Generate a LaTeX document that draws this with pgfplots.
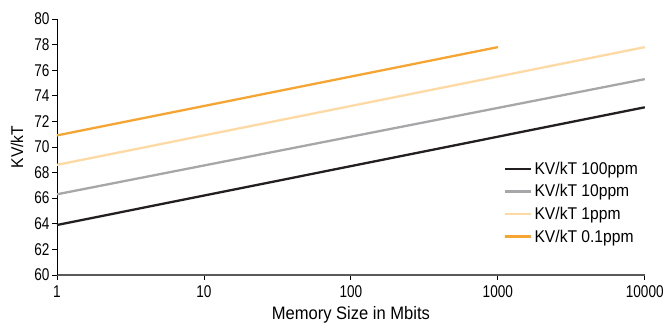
\documentclass[border=0pt]{standalone}
\usepackage{fontspec}
\setmainfont[FakeStretch=0.92]{Liberation Sans}
\newfontfamily\tickfont[FakeStretch=0.8]{Liberation Sans}
\usepackage{pgfplots}
\pgfplotsset{compat=1.18}
\definecolor{cBlack}{HTML}{231F20}
\definecolor{cGray}{HTML}{A7A7A9}
\definecolor{cLight}{HTML}{FDD9A3}
\definecolor{cOrange}{HTML}{F7A532}
\definecolor{cAxis}{HTML}{5A5A5A}
\begin{document}
\begin{tikzpicture}
\begin{axis}[
  scale only axis, width=588pt, height=256pt,
  at={(0,0)}, anchor=south west,
  xmode=log, xmin=1, xmax=10000, ymin=60, ymax=80,
  ytick={60,62,...,80},
  xtick={1,10,100,1000,10000}, xticklabels={1,10,100,1000,10000},
  minor xtick={}, xminorticks=false,
  axis x line=bottom, axis y line=left,
  x axis line style={-, line width=1.4pt, color=cAxis},
  y axis line style={-, line width=0.9pt, color=black},
  tick style={black, line width=0.8pt},
  tick align=outside, major tick length=5pt,
  /pgf/number format/assume math mode=true,
  ticklabel style={font=\tickfont\fontsize{17}{19}\selectfont},
  xticklabel style={yshift=-2pt},
  yticklabel style={xshift=1pt},
  xlabel={Memory Size in Mbits},
  ylabel={KV/kT},
  xlabel style={font=\fontsize{18}{20}\selectfont, at={(axis description cs:0.5,-0.158)}, anchor=center},
  ylabel style={font=\fontsize{17}{19}\selectfont, at={(axis description cs:-0.068,0.5)}, anchor=center},
  legend style={draw=none, fill=none, at={(axis description cs:0.755,0.458)}, anchor=north west,
    font=\fontsize{17}{19}\selectfont, row sep=4.8pt, legend cell align=left},
  legend image code/.code={\draw[#1, line width=2.6pt] (0pt,0pt) -- (26pt,0pt);},
]
\addplot[cBlack, line width=2.3pt] coordinates {(1,63.9) (10000,73.1)};
\addlegendentry{KV/kT 100ppm}
\addplot[cGray, line width=2.3pt] coordinates {(1,66.3) (10000,75.3)};
\addlegendentry{KV/kT 10ppm}
\addplot[cLight, line width=2.3pt] coordinates {(1,68.6) (10000,77.8)};
\addlegendentry{KV/kT 1ppm}
\addplot[cOrange, line width=2.3pt] coordinates {(1,70.9) (1000,77.8)};
\addlegendentry{KV/kT 0.1ppm}
\end{axis}
\useasboundingbox (-57pt,-47pt) rectangle (610pt,275pt);
\end{tikzpicture}
\end{document}
